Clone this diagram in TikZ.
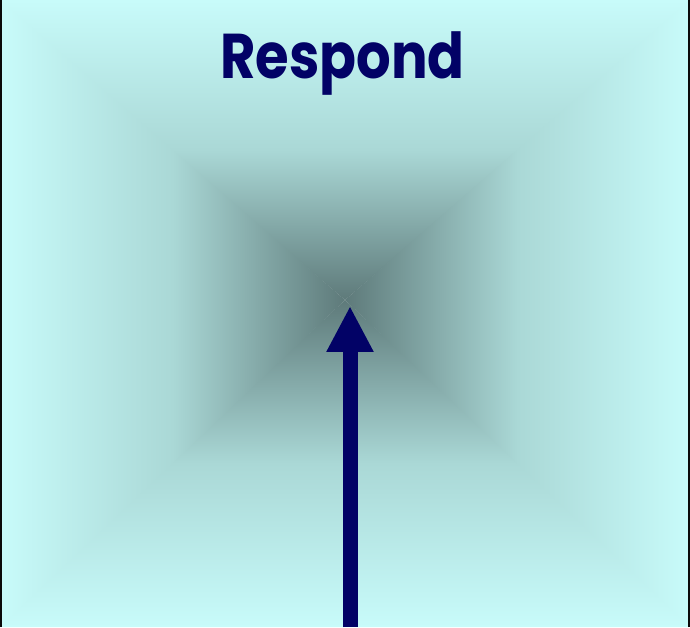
\documentclass[tikz,border=0pt]{standalone}
\usepackage{fontspec}
\newfontfamily\titlefont[FakeStretch=0.86]{Poppins}
\usetikzlibrary{arrows.meta}
\definecolor{rimCyan}{RGB}{200,251,250}
\definecolor{midTeal}{RGB}{170,216,214}
\definecolor{coreSlate}{RGB}{94,122,122}
\definecolor{respondNavy}{RGB}{2,2,102}
\definecolor{frameInk}{RGB}{10,10,10}
\tikzset{
  fade panel/.style={
    draw=none
  },
  frame edge/.style={
    draw=frameInk,
    line width=0.04cm
  },
  title text/.style={
    font=\titlefont\bfseries\fontsize{36}{40}\selectfont,
    text=respondNavy,
    inner sep=0pt
  },
  respond edge/.style={
    -{Triangle[length=0.92cm,width=0.88cm]},
    draw=respondNavy,
    line width=0.3cm
  }
}
\begin{document}
\begin{tikzpicture}[x=0.02cm,y=0.02cm]
  \useasboundingbox (0,0) rectangle (690,627);

  % corners of the panel and the dark centre
  \coordinate (sw) at (0,0);
  \coordinate (se) at (690,0);
  \coordinate (ne) at (690,627);
  \coordinate (nw) at (0,627);
  \coordinate (core) at (345,327);
  % a little overlap so the wedges leave no seam
  \coordinate (nw-lap) at (0,621);
  \coordinate (ne-lap) at (690,621);
  \coordinate (sw-lap) at (0,6);
  \coordinate (se-lap) at (690,6);

  % four wedges fading towards the centre
  \shade[fade panel,top color=rimCyan,bottom color=coreSlate,middle color=midTeal]
    (nw) -- (ne) -- (ne-lap) -- (core) -- (nw-lap) -- cycle;
  \shade[fade panel,top color=coreSlate,bottom color=rimCyan,middle color=midTeal]
    (sw) -- (se) -- (se-lap) -- (core) -- (sw-lap) -- cycle;
  \shade[fade panel,left color=rimCyan,right color=coreSlate,middle color=midTeal]
    (sw) -- (nw) -- (core) -- cycle;
  \shade[fade panel,left color=coreSlate,right color=rimCyan,middle color=midTeal]
    (se) -- (ne) -- (core) -- cycle;

  \draw[frame edge] (1,0) -- (1,627);
  \draw[frame edge] (689,0) -- (689,627);

  \node[title text,anchor=base] (title) at (342.5,549) {Respond};

  \coordinate (inlet) at (350,0);
  \coordinate (target) at (350,321);
  \draw[respond edge] (inlet) -- (target);
\end{tikzpicture}
\end{document}
